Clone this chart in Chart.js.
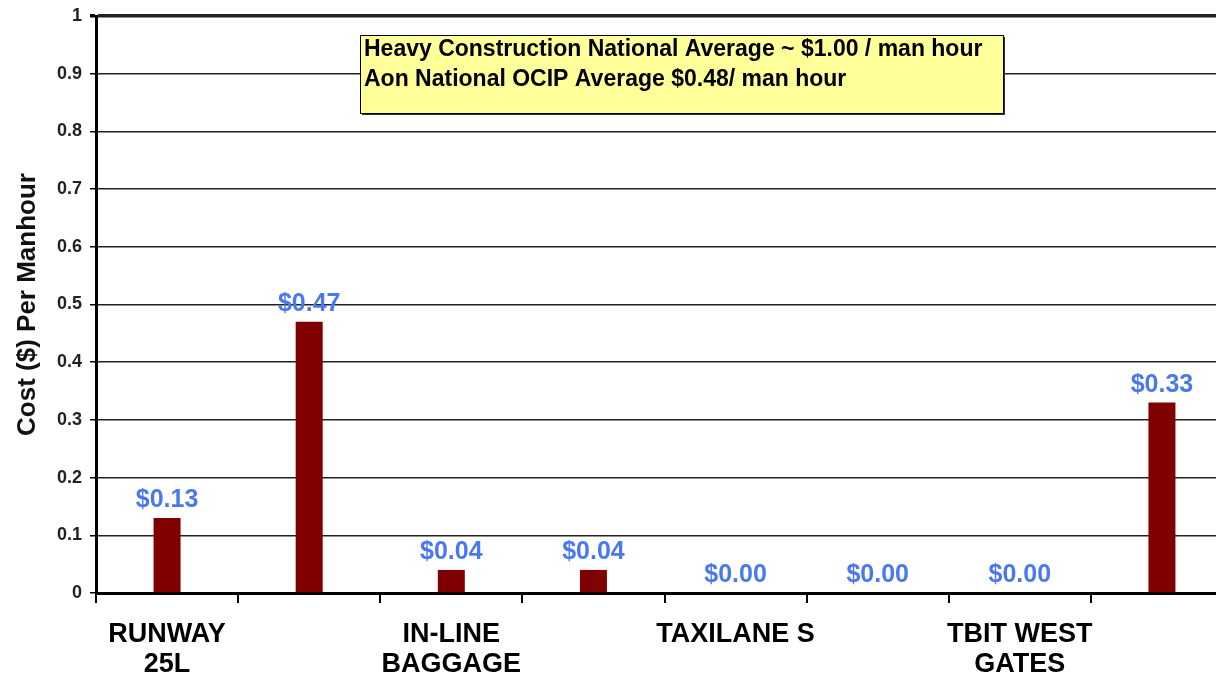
<!DOCTYPE html>
<html>
<head>
<meta charset="utf-8">
<script src="https://cdn.jsdelivr.net/npm/chart.js@4"></script>
<style>
  html, body { margin: 0; padding: 0; background: #fff; overflow: hidden; }
  #wrap { width: 1240px; height: 679px; }
</style>
</head>
<body>
<div id="wrap"><canvas id="costChart" width="1240" height="679"></canvas></div>
<script>
const categories = [
  ["RUNWAY", "25L"], "", ["IN-LINE", "BAGGAGE"], "",
  "TAXILANE S", "", ["TBIT WEST", "GATES"], ""
];
const costPerHour = [0.13, 0.47, 0.04, 0.04, 0, 0, 0, 0.33];
const valueLabels = ["$0.13", "$0.47", "$0.04", "$0.04", "$0.00", "$0.00", "$0.00", "$0.33"];
const noteLines = [
  "Heavy Construction National Average ~ $1.00 / man hour",
  "Aon National OCIP Average $0.48/ man hour"
];

const font = "'Liberation Sans', Arial, sans-serif";

// blue value labels above each bar
const valueLabelPlugin = {
  id: 'valueLabels',
  afterDatasetsDraw(chart) {
    const ctx = chart.ctx;
    const meta = chart.getDatasetMeta(0);
    ctx.save();
    ctx.font = "bold 25px " + font;
    ctx.fillStyle = '#4a78f0';
    ctx.textAlign = 'center';
    ctx.textBaseline = 'bottom';
    meta.data.forEach((bar, i) => {
      ctx.fillText(valueLabels[i], bar.x, bar.y - 5);
    });
    ctx.restore();
  }
};

// yellow note box
const noteBoxPlugin = {
  id: 'noteBox',
  afterDraw(chart) {
    const ctx = chart.ctx;
    const x = 360, y = 35, w = 643, h = 78;
    ctx.save();
    ctx.fillStyle = '#333';
    ctx.fillRect(x + 2, y + 2, w, h);
    ctx.fillStyle = '#ffff99';
    ctx.fillRect(x, y, w, h);
    ctx.strokeStyle = '#000';
    ctx.lineWidth = 1;
    ctx.strokeRect(x + 0.5, y + 0.5, w, h);
    ctx.fillStyle = '#000';
    ctx.font = "bold 23px " + font;
    ctx.textBaseline = 'middle';
    ctx.fillText(noteLines[0], x + 4, y + 15);
    ctx.fillText(noteLines[1], x + 4, y + 45);
    ctx.restore();
  }
};

new Chart(document.getElementById('costChart'), {
  type: 'bar',
  data: {
    labels: categories,
    datasets: [{
      data: costPerHour,
      backgroundColor: '#800000',
      barPercentage: 0.38,
      categoryPercentage: 0.5
    }]
  },
  options: {
    responsive: false,
    animation: false,
    layout: { padding: { left: 12, top: 16, right: 7, bottom: 0 } },
    plugins: {
      legend: { display: false },
      tooltip: { enabled: false }
    },
    scales: {
      x: {
        offset: true,
        grid: {
          display: true,
          drawOnChartArea: false,
          drawTicks: true,
          tickLength: 10,
          offset: true,
          color: '#000',
          lineWidth: 2
        },
        border: { color: '#000', width: 3 },
        ticks: {
          autoSkip: false,
          maxRotation: 0,
          padding: 16,
          color: '#000',
          font: { family: font, size: 27, weight: 'bold', lineHeight: 1.12 }
        },
        afterFit(scale) { scale.height = 86; }
      },
      y: {
        min: 0,
        max: 1,
        ticks: {
          stepSize: 0.1,
          padding: 8,
          color: '#222',
          font: { family: font, size: 18, weight: 'bold' },
          callback: v => String(Math.round(v * 10) / 10)
        },
        grid: {
          color: '#222',
          lineWidth: c => (c.tick && c.tick.value === 1) ? 3.5 : 1.5,
          tickLength: 6,
          tickColor: '#000'
        },
        border: { color: '#000', width: 3 },
        title: {
          display: true,
          text: 'Cost ($) Per Manhour',
          color: '#111',
          padding: 0,
          font: { family: font, size: 26, weight: 'bold' }
        },
        afterFit(scale) {
          scale.width = 84;
          scale.paddingTop = 0;
          scale.paddingBottom = 0;
        }
      }
    }
  },
  plugins: [valueLabelPlugin, noteBoxPlugin]
});
</script>
</body>
</html>
